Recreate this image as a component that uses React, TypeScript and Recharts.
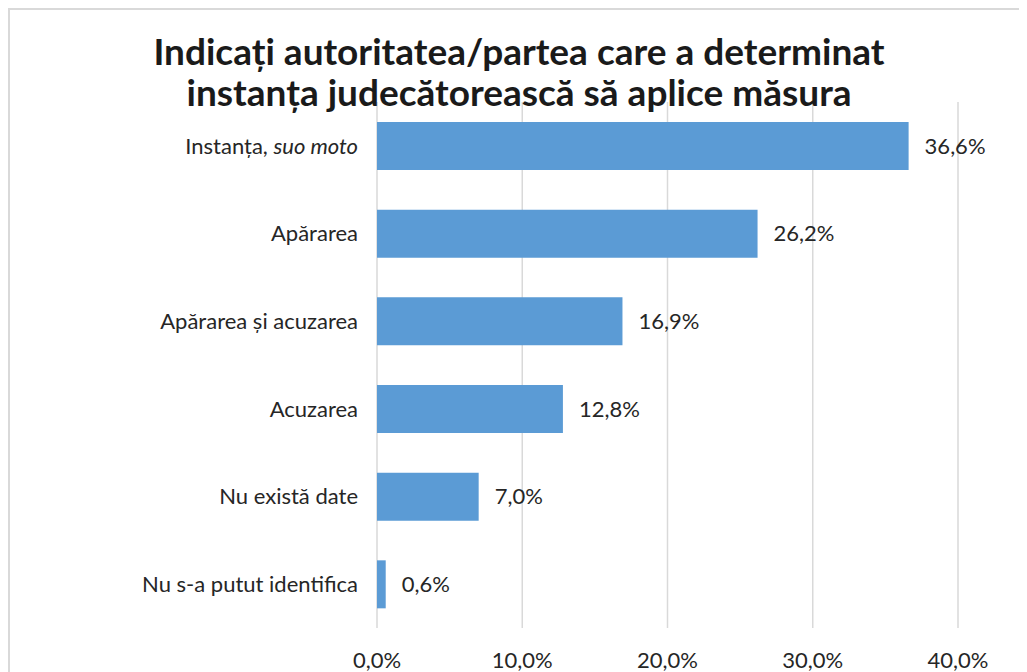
import { Bar, BarChart, CartesianGrid, LabelList, XAxis, YAxis } from 'recharts';

const categories = [
  'Instanța, suo moto',
  'Apărarea',
  'Apărarea și acuzarea',
  'Acuzarea',
  'Nu există date',
  'Nu s-a putut identifica',
];
const values = [36.6, 26.2, 16.9, 12.8, 7.0, 0.6];
const xTicks = [0, 10, 20, 30, 40];
const titleLines = [
  'Indicați autoritatea/partea care a determinat',
  'instanța judecătorească să aplice măsura',
];

const data = categories.map((name, i) => ({ name, value: values[i] }));

const FONT = 'Lato, "Open Sans", sans-serif';
const fmt = (v: number) => `${v.toFixed(1).replace('.', ',')}%`;

// eticheta categoriei, cu "suo moto" in italic
const CategoryTick = ({ x, y, payload }: any) => {
  const label: string = payload.value;
  const parts = label.split(', ');
  return (
    <text x={x} y={y} dy="0.35em" textAnchor="end" fontSize={22} fill="#262626" fontFamily={FONT}>
      {parts.length > 1 ? (
        <>
          <tspan>{parts[0] + ', '}</tspan>
          <tspan fontStyle="italic">{parts[1]}</tspan>
        </>
      ) : (
        label
      )}
    </text>
  );
};

export default function App() {
  return (
    <div style={{ position: 'relative', width: 1019, height: 664, background: '#fff' }}>
      <div
        style={{
          position: 'absolute',
          left: 0,
          top: 0,
          right: 0,
          bottom: 0,
          borderTop: '2px solid #d9d9d9',
          borderLeft: '2px solid #d9d9d9',
          pointerEvents: 'none',
        }}
      />
      <div
        style={{
          position: 'absolute',
          left: 0,
          top: 22,
          width: 1022,
          textAlign: 'center',
          fontFamily: FONT,
          fontWeight: 700,
          fontSize: 37,
          lineHeight: '41px',
          color: '#1a1a1a',
          zIndex: 1,
        }}
      >
        {titleLines.map((t) => (
          <div key={t}>{t}</div>
        ))}
      </div>
      <BarChart
        width={1019}
        height={664}
        data={data}
        layout="vertical"
        margin={{ top: 94, right: 69, bottom: 0, left: 0 }}
      >
        <CartesianGrid horizontal={false} stroke="#d9d9d9" strokeWidth={1.5} />
        <XAxis
          type="number"
          domain={[0, 40]}
          ticks={xTicks}
          interval={0}
          height={44}
          axisLine={false}
          tickLine={false}
          tickMargin={18}
          tickFormatter={fmt}
          tick={{ fontSize: 22, fill: '#262626', fontFamily: FONT }}
        />
        <YAxis
          type="category"
          dataKey="name"
          width={369}
          axisLine={false}
          tickLine={false}
          tickMargin={13}
          interval={0}
          tick={<CategoryTick />}
        />
        <Bar dataKey="value" fill="#5b9bd5" barSize={48} isAnimationActive={false}>
          <LabelList
            dataKey="value"
            position="right"
            offset={16}
            formatter={(v: any) => fmt(Number(v))}
            style={{ fontSize: 22, fill: '#262626', fontFamily: FONT }}
          />
        </Bar>
      </BarChart>
    </div>
  );
}
